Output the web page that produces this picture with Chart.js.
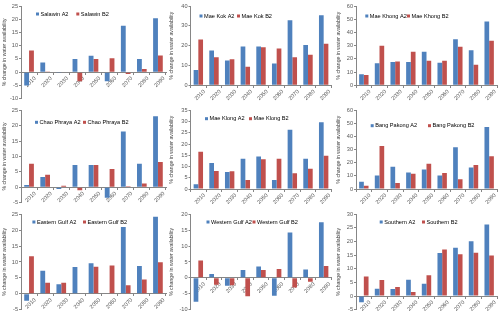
<!DOCTYPE html>
<html>
  <head>
    <meta charset="UTF-8" />
    <title>Change in water availability</title>
    <script src="https://cdn.jsdelivr.net/npm/chart.js"></script>
    <style>
      body {
        margin: 0;
        padding: 0;
        background: #fff;
        font-family: "Liberation Sans", Arial, sans-serif;
      }
      #wrap {
        position: relative;
        width: 500px;
        height: 314px;
      }
      canvas {
        position: absolute;
        display: block;
      }
    </style>
  </head>
  <body>
    <div id="wrap"></div>
    <script>
      const years = ['2010', '2020', '2030', '2040', '2050', '2060', '2070', '2080', '2090'];
      const basins = ['Salawin', 'Mae Kok', 'Mae Khong', 'Chao Phraya', 'Mae Klong',
                      'Bang Pakong', 'Eastern Gulf', 'Western Gulf', 'Southern'];

      // % change, scenario A2 and B2
      const salawinA2 = [-5, 3.7, -0.3, 5, 6.2, -3.4, 17.5, 5, 20.4];
      const salawinB2 = [8.2, 0.1, 0, -3.4, 5, 5.3, -0.7, 1.2, 6.3];
      const maeKokA2 = [7.7, 17.6, 12.5, 19.6, 19.6, 11, 32.8, 20.3, 35.3];
      const maeKokB2 = [23.1, 14.1, 13.1, 9.4, 19.2, 18.6, 14.2, 15.4, 20.9];
      const maeKhongA2 = [8.3, 16.6, 17.6, 17.6, 25.4, 17.1, 34.9, 26.6, 48.2];
      const maeKhongB2 = [7.8, 29.9, 18.1, 25.4, 18.6, 18.6, 29.1, 15.6, 33.7];
      const chaoPhrayaA2 = [0.7, 3.3, -0.6, 7.2, 7.2, -3.4, 18.1, 7.6, 23.1];
      const chaoPhrayaB2 = [7.6, 4.1, 0.5, -1, 7.2, 5.9, 0.3, 1.2, 8.2];
      const maeKlongA2 = [2.1, 11.6, 7.6, 13.4, 14.4, 4, 26.4, 13.4, 29.7];
      const maeKlongB2 = [16.6, 8, 7.9, 4, 13.2, 13.4, 7, 9, 14.8];
      const bangPakongA2 = [5.6, 10.2, 17, 12.5, 14.8, 10.2, 31.8, 16.3, 47.3];
      const bangPakongB2 = [2.5, 32.8, 4.6, 11.7, 19.3, 12.2, 7.4, 18.3, 24.9];
      const easternGulfA2 = [-2.2, 7.2, 3, 8.4, 9.6, 0, 21, 8.7, 24.2];
      const easternGulfB2 = [11.8, 3.5, 3.5, 0, 8.5, 8.9, 2.7, 4.5, 9.9];
      const westernGulfA2 = [-7.5, 1.25, -2.5, 2.5, 3.6, -5.6, 14.3, 2.6, 17.5];
      const westernGulfB2 = [5.5, -2.2, -2.3, -5.8, 2.5, 2.8, -3, -1.2, 3.75];
      const southernA2 = [-2.3, 2.7, 2.6, 6, 4.5, 15.8, 17.7, 20.1, 26.3];
      const southernB2 = [7.2, 5.9, 3.3, 1.5, 7.6, 17.1, 15.3, 15.9, 14.9];

      const seriesA2 = [salawinA2, maeKokA2, maeKhongA2, chaoPhrayaA2, maeKlongA2,
                        bangPakongA2, easternGulfA2, westernGulfA2, southernA2];
      const seriesB2 = [salawinB2, maeKokB2, maeKhongB2, chaoPhrayaB2, maeKlongB2,
                        bangPakongB2, easternGulfB2, westernGulfB2, southernB2];

      // y axis ticks
      const yMins = [-10, 0, 0, -5, 0, 0, -5, -10, -5];
      const yMaxs = [25, 40, 60, 25, 35, 60, 25, 20, 30];
      const ySteps = [5, 10, 10, 5, 5, 10, 5, 5, 5];

      // panel layout
      const cols = [
        { x: 0, w: 167, left: 21, padR: 1 },
        { x: 167, w: 167, left: 23.5, padR: 2.5 },
        { x: 334, w: 166, left: 22, padR: 3 }
      ];
      const rows = [
        { y: 0, h: 103, padT: 6 },
        { y: 103, h: 104, padT: 7.3 },
        { y: 207, h: 107, padT: 7.3 }
      ];
      const padBottom = [2.3, 17.7, 17.7, 2.3, 18, 18, 4, 3.7, 4.3];
      const legendPos = [
        [15, 55.3, 8], [9, 46.5, 10], [9.3, 51, 10],
        [14, 62, 12], [14.5, 58.5, 8.4], [14.7, 72, 15.4],
        [11.4, 62, 7.7], [16, 62, 7.7], [23.7, 66, 7.7]
      ];

      const BLUE = '#4F81BD';
      const RED = '#C0504D';
      const AXIS = '#868686';
      const FONT = '"Liberation Sans", Arial, sans-serif';

      // small legend drawn inside the plot area
      const cornerLegend = {
        id: 'cornerLegend',
        afterDatasetsDraw(chart, args, opts) {
          const { ctx, chartArea } = chart;
          ctx.save();
          ctx.font = '5.6px ' + FONT;
          ctx.textBaseline = 'middle';
          chart.data.datasets.forEach((ds, i) => {
            const x = chartArea.left + opts.pos[i];
            const y = chartArea.top + opts.pos[2];
            ctx.fillStyle = ds.backgroundColor;
            ctx.fillRect(x, y - 1.5, 3, 3);
            ctx.fillStyle = '#000';
            ctx.fillText(ds.label, x + 4.5, y);
          });
          ctx.restore();
        }
      };

      const wrap = document.getElementById('wrap');

      basins.forEach((name, i) => {
        const col = cols[i % 3];
        const row = rows[Math.floor(i / 3)];
        const canvas = document.createElement('canvas');
        canvas.width = col.w;
        canvas.height = row.h;
        canvas.style.left = col.x + 'px';
        canvas.style.top = row.y + 'px';
        wrap.appendChild(canvas);

        new Chart(canvas.getContext('2d'), {
          type: 'bar',
          data: {
            labels: years,
            datasets: [
              { label: name + ' A2', data: seriesA2[i], backgroundColor: BLUE },
              { label: name + ' B2', data: seriesB2[i], backgroundColor: RED }
            ]
          },
          plugins: [cornerLegend],
          options: {
            responsive: false,
            animation: false,
            events: [],
            categoryPercentage: 0.6,
            barPercentage: 1.0,
            layout: {
              padding: { left: 0, right: col.padR, top: row.padT, bottom: padBottom[i] }
            },
            plugins: {
              legend: { display: false },
              tooltip: { enabled: false },
              cornerLegend: { pos: legendPos[i] }
            },
            scales: {
              x: {
                position: { y: 0 },
                grid: {
                  offset: true,
                  drawOnChartArea: false,
                  drawTicks: true,
                  tickLength: 2,
                  color: AXIS
                },
                border: { color: AXIS, width: 1 },
                ticks: {
                  autoSkip: false,
                  minRotation: 45,
                  maxRotation: 45,
                  padding: 1,
                  labelOffset: 6,
                  color: '#595959',
                  font: { family: FONT, size: 5.6 }
                }
              },
              y: {
                min: yMins[i],
                max: yMaxs[i],
                afterFit(scale) { scale.width = col.left; },
                grid: {
                  drawOnChartArea: false,
                  drawTicks: true,
                  tickLength: 2,
                  color: AXIS
                },
                border: { color: AXIS, width: 1 },
                ticks: {
                  stepSize: ySteps[i],
                  padding: 1,
                  color: '#595959',
                  font: { family: FONT, size: 5.6 }
                },
                title: {
                  display: true,
                  text: '% change in water availability',
                  color: '#404040',
                  padding: 1,
                  font: { family: FONT, size: 5.2 }
                }
              }
            }
          }
        });
      });
    </script>
  </body>
</html>
